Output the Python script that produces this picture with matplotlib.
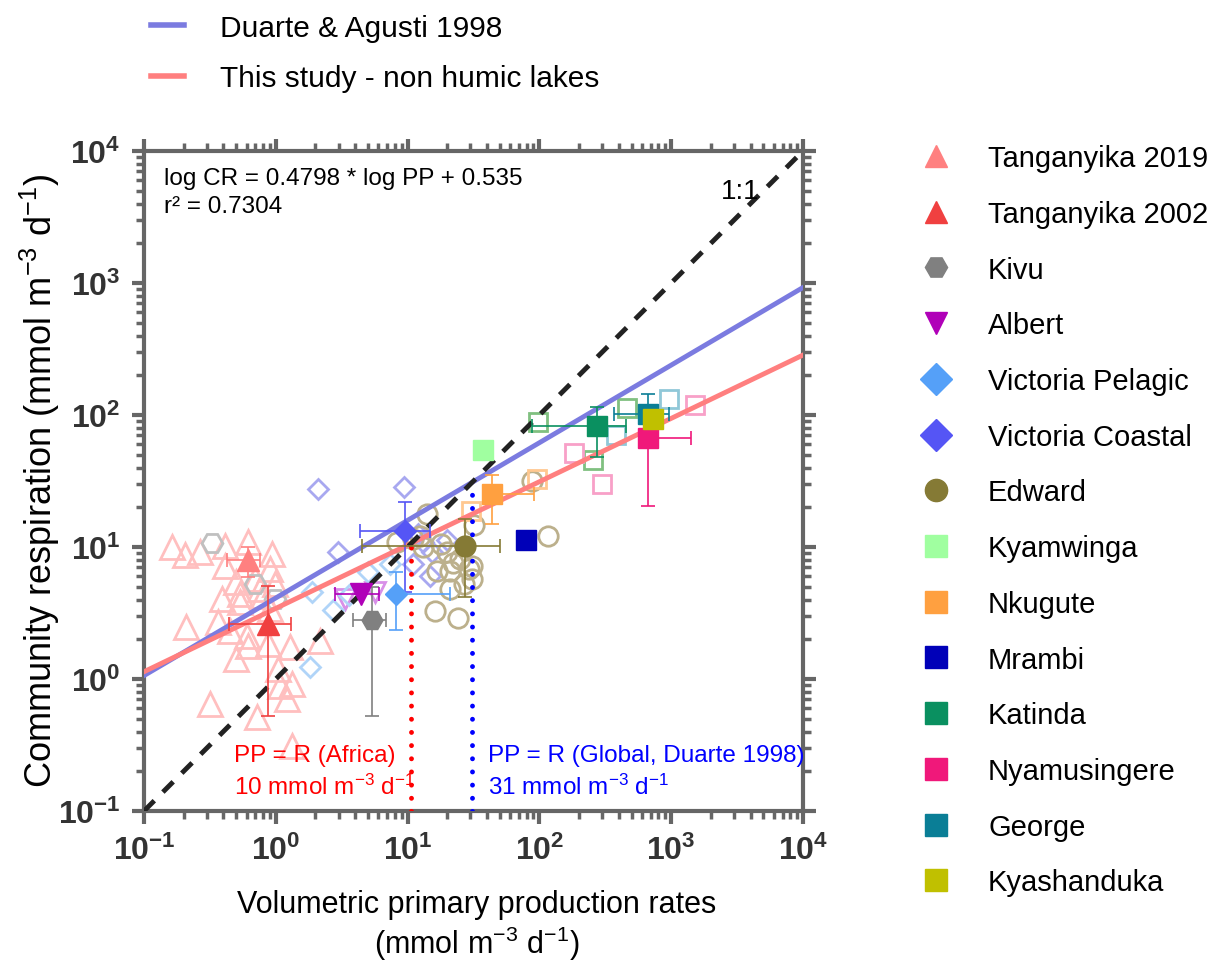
import numpy as np
import matplotlib
matplotlib.use("Agg")
import matplotlib.pyplot as plt
from matplotlib.lines import Line2D
from matplotlib.ticker import LogLocator, NullFormatter, FixedLocator, FixedFormatter

plt.rcParams['font.family'] = ['Liberation Sans', 'DejaVu Sans']
plt.rcParams['mathtext.fontset'] = 'custom'
plt.rcParams['mathtext.rm'] = 'Liberation Sans'
plt.rcParams['mathtext.it'] = 'Liberation Sans:italic'
plt.rcParams['mathtext.bf'] = 'Liberation Sans:bold'

# ---- regression lines ----
duarte_slope, duarte_icpt = 0.588, 0.614
study_slope, study_icpt = 0.4798, 0.535
pp_africa = 10.7
pp_global = 31.0

# ---- individual (open) points ----
tang19_x = [0.163, 0.205, 0.266, 0.412, 0.616, 0.936, 0.412, 0.986, 0.759, 0.535,
            0.364, 0.45, 0.604, 0.616, 0.873, 1.28, 2.16, 1.08, 1.33, 1.22,
            0.317, 0.72, 1.33, 0.535, 0.80, 0.904, 0.208, 0.499, 0.391, 1.04,
            0.499, 0.695, 0.904]
tang19_y = [10.0, 8.7, 9.2, 10.2, 10.9, 8.85, 7.18, 5.25, 4.81, 4.41,
            2.70, 2.31, 2.12, 1.78, 1.84, 1.75, 1.94, 0.885, 0.917, 0.705,
            0.647, 0.515, 0.31, 3.83, 4.26, 3.39, 2.48, 5.43, 4.04, 1.19,
            1.42, 5.73, 6.8]
kivu_x = [0.328, 0.69, 0.98]
kivu_y = [10.7, 5.25, 4.04]
albert_x = [3.35, 5.66]
albert_y = [4.04, 4.56]
vicpel_x = [1.88, 2.72, 1.82, 5.0, 7.35, 3.6]
vicpel_y = [4.56, 3.33, 1.23, 6.46, 7.4, 4.3]
viccoa_x = [2.09, 9.4, 2.97, 13.1, 20.0, 15.3, 11.0, 14.8, 12.0]
viccoa_y = [27.6, 28.5, 9.2, 10.9, 11.3, 9.2, 7.4, 6.0, 12.5]
edward_x = [14, 32, 88, 116, 8.3, 11, 12.4, 20, 25, 16.7, 21, 29, 31, 30.6,
            21, 16, 24, 13, 18, 27, 22]
edward_y = [17.8, 14.7, 31.6, 12.1, 10.9, 11.5, 12.1, 9.2, 8.1, 6.6, 6.6, 6.8,
            5.7, 7.2, 4.8, 3.27, 2.9, 10.0, 10.5, 5.2, 7.5]
nkugute_x = [30.3, 96]
nkugute_y = [18.7, 32.7]
katinda_x = [98, 255, 462]
katinda_y = [88.5, 45.6, 113]
nyamu_x = [183, 299, 1513]
nyamu_y = [51.5, 30, 119]
george_x = [962, 381]
george_y = [132, 70.5]

# ---- means with error ranges (low, high) ----
names = ['Tanganyika 2019', 'Tanganyika 2002', 'Kivu', 'Albert', 'Victoria Pelagic',
         'Victoria Coastal', 'Edward', 'Kyamwinga', 'Nkugute', 'Mrambi', 'Katinda',
         'Nyamusingere', 'George', 'Kyashanduka']
mean_x = [0.615, 0.873, 5.37, 4.43, 8.17, 9.55, 27.3, 37.3, 43.6, 79, 273, 667, 667, 728]
mean_y = [7.98, 2.61, 2.80, 4.41, 4.41, 13.2, 10.2, 54.3, 25.2, 11.3, 82.6, 67, 102, 93]
x_lo = [0.43, 0.44, 3.86, 2.81, 8.17, 4.35, 4.5, 37.3, 43.6, 79, 88, 667, 368, 728]
x_hi = [0.76, 1.30, 6.85, 6.07, 21.0, 14.8, 50, 37.3, 91, 79, 454, 1413, 962, 728]
y_lo = [5.9, 0.52, 0.52, 4.41, 2.35, 4.6, 4.2, 54.3, 14.9, 11.3, 48, 20.5, 58, 93]
y_hi = [10.0, 5.07, 5.0, 4.41, 6.46, 21.9, 16.3, 54.3, 35, 11.3, 115, 67, 144, 93]

colors = ['#FF8080', '#F04040', '#808080', '#B000B8', '#55A0F8', '#5555F5', '#857A35',
          '#A0FFA0', '#FFA040', '#0000B8', '#0A9060', '#F0187A', '#0A7E96', '#C0C000']
markers = ['^', '^', 'H', 'v', 'D', 'D', 'o', 's', 's', 's', 's', 's', 's', 's']
msizes = [16, 16, 15, 16, 11.5, 11.5, 15, 15, 15, 15, 15, 15, 15, 15]

fig = plt.figure(figsize=(12.18, 9.62), dpi=100)
ax = fig.add_axes([144 / 1218, 1 - 812 / 962, 659 / 1218, 660 / 962])
ax.set_xscale('log')
ax.set_yscale('log')
ax.set_xlim(0.1, 1e4)
ax.set_ylim(0.1, 1e4)

# open points
open_sets = [
    (tang19_x, tang19_y, '^', '#FFBFBF', 17),
    (kivu_x, kivu_y, 'H', '#C0C0C0', 15),
    (albert_x, albert_y, 'v', '#D890E8', 15),
    (vicpel_x, vicpel_y, 'D', '#B0D4F8', 10.5),
    (viccoa_x, viccoa_y, 'D', '#A8A8F0', 10.5),
    (edward_x, edward_y, 'o', '#BCB08C', 14),
    (nkugute_x, nkugute_y, 's', '#FFC890', 13.5),
    (katinda_x, katinda_y, 's', '#80C080', 13.5),
    (nyamu_x, nyamu_y, 's', '#F8A0C8', 13.5),
    (george_x, george_y, 's', '#90C8D8', 13.5),
]
for xs, ys, m, c, s in open_sets:
    ax.plot(xs, ys, linestyle='none', marker=m, ms=s, mfc='none', mec=c, mew=2, zorder=2)

# lines
xl = np.array([0.1, 1e4])
ax.plot(xl, 10 ** (duarte_slope * np.log10(xl) + duarte_icpt), color='#7B7BE0', lw=3.5, zorder=3)
ax.plot(xl, 10 ** (study_slope * np.log10(xl) + study_icpt), color='#FF7F7F', lw=3.5, zorder=3)
ax.plot(xl, xl, color='#222222', lw=3.5, ls=(0, (3, 2.5)), zorder=3)
ax.plot([pp_africa, pp_africa], [0.1, pp_africa], color='#FF0000', lw=3.5, ls=(0, (0.01, 2.7)),
        dash_capstyle='round', zorder=3)
ax.plot([pp_global, pp_global], [0.1, pp_global], color='#0000FF', lw=3.5, ls=(0, (0.01, 2.7)),
        dash_capstyle='round', zorder=3)

# means with error bars
for i in range(len(names)):
    xe = [[mean_x[i] - x_lo[i]], [x_hi[i] - mean_x[i]]]
    ye = [[mean_y[i] - y_lo[i]], [y_hi[i] - mean_y[i]]]
    ax.errorbar([mean_x[i]], [mean_y[i]], xerr=xe, yerr=ye, fmt='none', ecolor=colors[i],
                elinewidth=1.2, capsize=5, capthick=1.2, zorder=4)
    ax.plot([mean_x[i]], [mean_y[i]], linestyle='none', marker=markers[i], ms=msizes[i],
            color=colors[i], mec=colors[i], zorder=5)

# axes styling
for sp in ax.spines.values():
    sp.set_linewidth(3)
    sp.set_color('#666666')
major = [0.1, 1, 10, 100, 1000, 10000]
labels = [r'$\mathbf{10^{-1}}$', r'$\mathbf{10^{0}}$', r'$\mathbf{10^{1}}$',
          r'$\mathbf{10^{2}}$', r'$\mathbf{10^{3}}$', r'$\mathbf{10^{4}}$']
for axis in (ax.xaxis, ax.yaxis):
    axis.set_major_locator(FixedLocator(major))
    axis.set_major_formatter(FixedFormatter(labels))
    axis.set_minor_locator(LogLocator(base=10, subs=np.arange(2, 10)))
    axis.set_minor_formatter(NullFormatter())
ax.tick_params(which='both', direction='out', top=True, right=True, color='#666666')
ax.tick_params(which='major', length=9, width=3, labelsize=23, labelcolor='#333333', pad=8)
ax.tick_params(which='minor', length=6, width=2.5)

# annotations
ax.text(0.03, 0.975, 'log CR = 0.4798 * log PP + 0.535', transform=ax.transAxes,
        fontsize=17.5, va='top')
ax.text(0.03, 0.933, 'r² = 0.7304', transform=ax.transAxes, fontsize=17.5, va='top')
ax.text(0.875, 0.94, '1:1', transform=ax.transAxes, fontsize=20, va='center')
ax.text(0.136, 0.085, 'PP = R (Africa)', transform=ax.transAxes, fontsize=17.5,
        color='#FF0000', va='center')
ax.text(0.136, 0.037, '10 mmol m$^{-3}$ d$^{-1}$', transform=ax.transAxes, fontsize=17.5,
        color='#FF0000', va='center')
ax.text(0.522, 0.085, 'PP = R (Global, Duarte 1998)', transform=ax.transAxes, fontsize=17.5,
        color='#0000FF', va='center')
ax.text(0.522, 0.037, '31 mmol m$^{-3}$ d$^{-1}$', transform=ax.transAxes, fontsize=17.5,
        color='#0000FF', va='center')

fig.text(40 / 1218, 1 - 481 / 962, 'Community respiration (mmol m$^{-3}$ d$^{-1}$)',
         rotation=90, ha='center', va='center', fontsize=26)
fig.text(477 / 1218, 1 - 905 / 962, 'Volumetric primary production rates',
         ha='center', va='center', fontsize=22)
fig.text(477 / 1218, 1 - 944 / 962, '(mmol m$^{-3}$ d$^{-1}$)',
         ha='center', va='center', fontsize=22)

# top legend (lines)
line_handles = [Line2D([], [], color='#7B7BE0', lw=4), Line2D([], [], color='#FF7F7F', lw=4)]
fig.legend(line_handles, ['Duarte & Agusti 1998', 'This study - non humic lakes'],
           loc='upper left', bbox_to_anchor=(124 / 1218, 1 + 12 / 962), frameon=False,
           fontsize=21.5, handlelength=1.1, handletextpad=1.2, labelspacing=0.75)

# right legend (lakes)
pt_handles = [Line2D([], [], linestyle='none', marker=markers[i], ms=16, color=colors[i])
              for i in range(len(names))]
fig.legend(pt_handles, names, loc='upper left', bbox_to_anchor=(886 / 1218, 1 - 119 / 962),
           frameon=False, fontsize=21, handlelength=1.6, handletextpad=1.0, labelspacing=0.95)

fig.savefig('out.png', dpi=100)
